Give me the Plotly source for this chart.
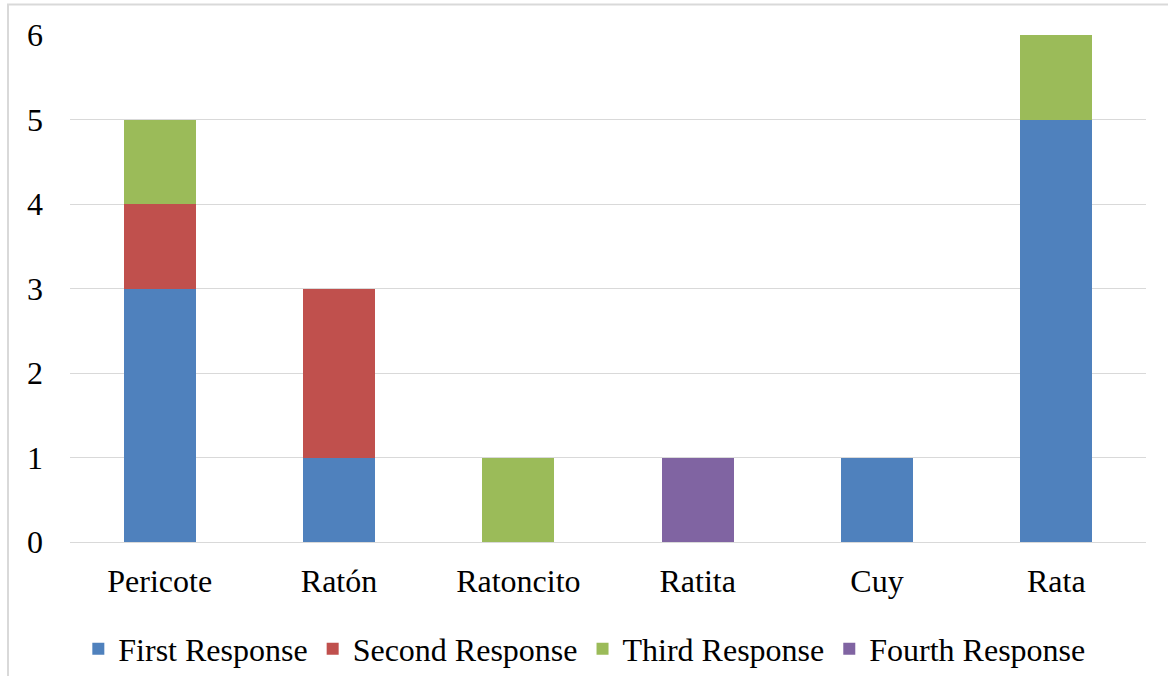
import plotly.graph_objects as go

categories = ["Pericote", "Ratón", "Ratoncito", "Ratita", "Cuy", "Rata"]
first_response = [3, 1, 0, 0, 1, 5]
second_response = [1, 2, 0, 0, 0, 0]
third_response = [1, 0, 1, 0, 0, 1]
fourth_response = [0, 0, 0, 1, 0, 0]
y_ticks = [0, 1, 2, 3, 4, 5, 6]

series = [
    ("First Response", first_response, "#4F81BD"),
    ("Second Response", second_response, "#C0504D"),
    ("Third Response", third_response, "#9BBB59"),
    ("Fourth Response", fourth_response, "#8064A2"),
]

FONT = "Liberation Serif, Times New Roman, serif"
SIZE = 32

fig = go.Figure()
for name, values, color in series:
    fig.add_trace(go.Bar(
        name=name, x=categories, y=values,
        marker=dict(color=color, line=dict(width=0)),
    ))

fig.update_layout(
    barmode="stack",
    bargap=0.6,
    width=1168, height=676,
    margin=dict(l=70, r=22, t=35, b=134, autoexpand=False),
    paper_bgcolor="white",
    plot_bgcolor="white",
    font=dict(family=FONT, size=SIZE, color="black"),
    showlegend=True,
    legend=dict(
        orientation="h",
        x=0.478, xanchor="center",
        yref="container", y=0.04, yanchor="middle",
        font=dict(family=FONT, size=SIZE, color="black"),
        traceorder="normal",
        itemclick=False,
    ),
    xaxis=dict(
        showgrid=False, showline=False, ticks="",
        tickfont=dict(family=FONT, size=SIZE),
        ticklabelstandoff=17,
    ),
    yaxis=dict(
        range=[0, 6],
        tickvals=y_ticks,
        showgrid=True, gridcolor="#D9D9D9", gridwidth=1.3,
        zeroline=True, zerolinecolor="#D9D9D9", zerolinewidth=1.3,
        showline=False, ticks="",
        tickfont=dict(family=FONT, size=SIZE),
        ticklabelstandoff=26,
    ),
    shapes=[
        dict(type="rect", xref="paper", yref="paper",
             x0=-0.0576, x1=1.3, y0=-0.6, y1=1.060,
             line=dict(color="#D9D9D9", width=2), fillcolor="rgba(0,0,0,0)",
             layer="below"),
    ],
)

fig.write_html("out.html")
